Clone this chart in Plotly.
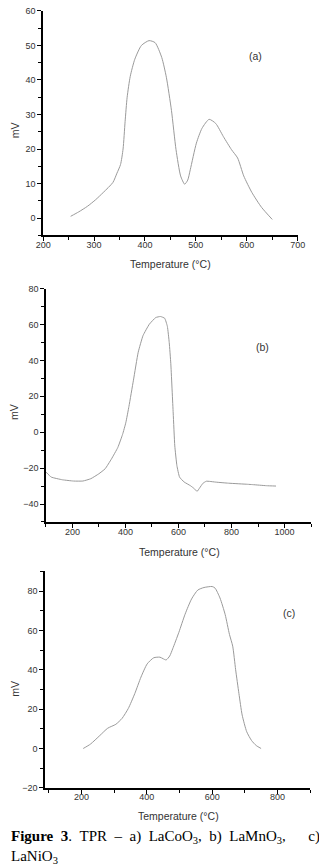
import plotly.graph_objects as go

# ---- data ----
a_temp = [254, 270, 287, 303, 318, 337, 345, 352, 357, 361, 365, 371, 380, 393, 408, 420, 433, 442, 452, 461, 470, 478, 484, 489, 501, 512, 526, 539, 554, 570, 582, 594, 610, 629, 650]
a_mv = [0.5, 1.8, 3.4, 5.3, 7.4, 10.3, 13.0, 15.5, 20.0, 28.0, 35.0, 41.0, 46.0, 50.0, 51.4, 50.8, 46.5, 40.8, 31.2, 19.8, 12.2, 9.8, 11.0, 14.0, 21.7, 26.0, 28.6, 27.4, 23.6, 19.8, 17.4, 12.2, 7.4, 3.1, -0.4]

b_temp = [100, 120, 162, 204, 239, 269, 299, 323, 347, 371, 389, 401, 413, 430, 448, 466, 490, 514, 532, 548, 558, 565, 571, 580, 586, 594, 604, 621, 645, 660, 670, 680, 692, 705, 718, 741, 789, 860, 880, 932, 968]
b_mv = [-22.2, -25.0, -26.5, -27.2, -27.2, -25.9, -23.2, -20.4, -14.9, -8.5, -1.2, 5.2, 14.4, 29.0, 44.6, 53.8, 60.2, 63.9, 64.5, 63.5, 59.0, 50.0, 38.2, 10.7, -7.6, -18.6, -25.0, -27.7, -29.8, -31.5, -33.0, -31.0, -28.5, -27.3, -27.4, -27.8, -28.4, -29.0, -29.2, -29.8, -30.0]

c_temp = [205, 227, 256, 280, 305, 324, 343, 363, 382, 401, 421, 440, 450, 459, 470, 479, 498, 517, 537, 556, 575, 600, 609, 624, 640, 653, 663, 672, 682, 692, 706, 721, 735, 750]
c_mv = [0.0, 2.2, 6.6, 10.3, 12.3, 15.3, 20.3, 27.9, 36.3, 43.0, 46.1, 46.4, 45.6, 45.0, 47.0, 50.6, 59.0, 68.2, 76.0, 80.5, 81.8, 82.3, 81.5, 76.5, 68.0, 58.0, 52.0, 40.0, 28.0, 17.0, 8.5, 4.0, 1.5, 0.0]

W, H = 319, 865
LINE = dict(color="#9a9a9a", width=1)
TICKFONT = dict(family="Liberation Sans, Arial, sans-serif", size=9, color="#333333")
LABELFONT = dict(family="Liberation Sans, Arial, sans-serif", size=10.5, color="#333333")
CAPFONT = dict(family="Liberation Serif, Times New Roman, serif", size=15, color="black")


def px(x):
    return x / W


def py(y):
    return 1 - y / H


fig = go.Figure()
fig.add_trace(go.Scatter(x=a_temp, y=a_mv, mode="lines", line=dict(LINE, shape="spline", smoothing=0.6), xaxis="x", yaxis="y", showlegend=False))
fig.add_trace(go.Scatter(x=b_temp, y=b_mv, mode="lines", line=dict(LINE, shape="spline", smoothing=0.4), xaxis="x2", yaxis="y2", showlegend=False))
fig.add_trace(go.Scatter(x=c_temp, y=c_mv, mode="lines", line=dict(LINE, shape="spline", smoothing=0.6), xaxis="x3", yaxis="y3", showlegend=False))


def axis(domain, rng, dtick, mdtick, anchor, standoff=0):
    return dict(
        domain=domain, range=rng, dtick=dtick, tick0=0, anchor=anchor,
        showline=True, linecolor="black", linewidth=1.5,
        ticks="outside", ticklen=4, tickwidth=1.2, tickcolor="black",
        minor=dict(ticks="outside", ticklen=3, dtick=mdtick, tickcolor="black", tickwidth=1.2),
        showgrid=False, zeroline=False, tickfont=TICKFONT, mirror=False,
        ticklabelstandoff=standoff,
    )


fig.update_layout(
    width=W, height=H, autosize=False,
    margin=dict(l=0, r=0, t=0, b=0),
    paper_bgcolor="white", plot_bgcolor="white",
    xaxis=axis([px(37), px(305)], [200, 700], 100, 50, "y", -4),
    yaxis=axis([py(233), py(6)], [-5, 60], 10, 5, "x"),
    xaxis2=axis([px(40), 1.0], [100, 1100], 200, 100, "y2", -4),
    yaxis2=axis([py(523), py(287)], [-50, 80], 20, 10, "x2"),
    xaxis3=axis([px(39), px(318)], [88, 900], 200, 100, "y3", -4),
    yaxis3=axis([py(792), py(573)], [-20, 90], 20, 10, "x3"),
)

ann = []
for cx, cy in [(171, 262), (181, 553), (180, 820)]:
    ann.append(dict(text="Temperature (°C)", x=px(cx), y=py(cy), xref="paper", yref="paper",
                    showarrow=False, xanchor="center", yanchor="middle", font=LABELFONT))
for cy in [127, 412, 692]:
    ann.append(dict(text="mV", x=px(7), y=py(cy), xref="paper", yref="paper", textangle=-90,
                    showarrow=False, xanchor="center", yanchor="middle", font=LABELFONT))
for t, cx, cy in [("(a)", 261, 52), ("(b)", 268, 346), ("(c)", 296, 615)]:
    ann.append(dict(text=t, x=px(cx), y=py(cy), xref="paper", yref="paper",
                    showarrow=False, xanchor="center", yanchor="middle", font=LABELFONT))

# justified caption: widen the word gaps like the reference
g = " \u00a0"
caption_line1 = ("<b>Figure" + g + "3</b>." + g + "TPR" + g + "–" + g + "a)" + g + "LaCoO<sub>3</sub>,"
                 + g + "b)" + g + "LaMnO<sub>3</sub>," + " \u00a0\u00a0\u00a0\u00a0\u00a0" + "c)")
ann.append(dict(text=caption_line1, x=px(1), y=py(831), xref="paper", yref="paper", showarrow=False,
                xanchor="left", yanchor="top", align="left", font=CAPFONT))
ann.append(dict(text="LaNiO<sub>3</sub>", x=px(1), y=py(851), xref="paper", yref="paper", showarrow=False,
                xanchor="left", yanchor="top", align="left", font=CAPFONT))
fig.update_layout(annotations=ann)

fig.write_html("out.html", config={"displayModeBar": False})
